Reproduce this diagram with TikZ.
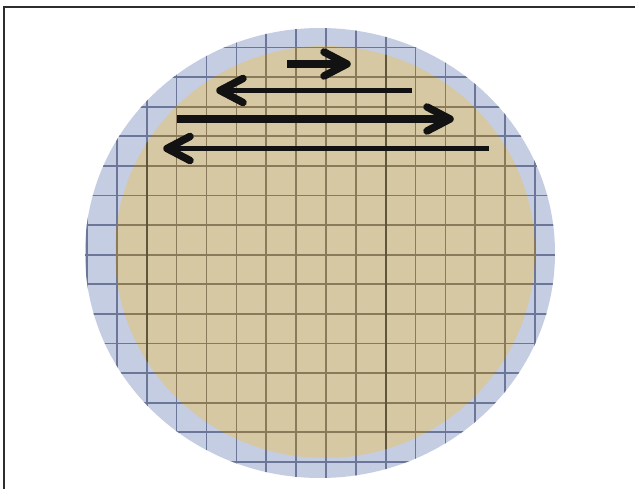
\documentclass[tikz,border=0pt]{standalone}
\usetikzlibrary{calc}
\definecolor{ringblue}{RGB}{197,205,226}
\definecolor{paper}{RGB}{214,200,163}
\definecolor{gridblue}{RGB}{108,118,152}
\definecolor{gridbrown}{RGB}{138,122,90}
\definecolor{griddark}{RGB}{95,84,60}
\definecolor{framegray}{RGB}{45,45,45}
\definecolor{ink}{RGB}{18,18,18}
\tikzset{
  framestyle/.style={draw=framegray,line width=2pt},
  gridline/.style={line width=1.7pt},
  shaftthick/.style={draw=ink,line width=7.5pt,line cap=butt},
  shaftthin/.style={draw=ink,line width=5pt,line cap=butt},
  chevron/.style={draw=ink,line width=7.5pt,line cap=round,line join=round}
}
\begin{document}
\begin{tikzpicture}[x=1pt,y=-1pt]
\useasboundingbox (0,0) rectangle (635,489);
% frame (top and left edges only)
\draw[framestyle] (4,489) -- (4,7) -- (635,7);
% outer disc and filter
\fill[ringblue] (320,253) ellipse [x radius=235, y radius=225];
\fill[paper] (325,252) ellipse [x radius=210, y radius=206];
% grid in blue ring
\begin{scope}
  \clip (320,253) ellipse [x radius=235, y radius=225];
  \foreach \k in {0,...,15} {
    \draw[gridline,gridblue] ({87+29.87*\k},0) -- ({87+29.87*\k},489);
  }
  \foreach \k in {0,...,14} {
    \draw[gridline,gridblue] (0,{47.5+29.6*\k}) -- (635,{47.5+29.6*\k});
  }
\end{scope}
% grid in filter
\begin{scope}
  \clip (325,252) ellipse [x radius=210, y radius=206];
  \foreach \k in {0,...,15} {
    \draw[gridline,gridbrown] ({87+29.87*\k},0) -- ({87+29.87*\k},489);
  }
  \foreach \k in {0,...,14} {
    \draw[gridline,gridbrown] (0,{47.5+29.6*\k}) -- (635,{47.5+29.6*\k});
  }
  \draw[line width=1.8pt,griddark] (146.7,0) -- (146.7,489);
  \draw[line width=1.8pt,griddark] (385.7,0) -- (385.7,489);
\end{scope}
% arrows
\coordinate (a1s) at (287,64);
\coordinate (a1e) at (347,64);
\coordinate (a2s) at (412,90.5);
\coordinate (a2e) at (220,90.5);
\coordinate (a3s) at (177,119);
\coordinate (a3e) at (450,119);
\coordinate (a4s) at (489,148.5);
\coordinate (a4e) at (167,148.5);
\draw[shaftthick] (a1s) -- (a1e);
\draw[chevron] ($(a1e)+(-23,-12)$) -- (a1e) -- ($(a1e)+(-23,12)$);
\draw[shaftthin] (a2s) -- (a2e);
\draw[chevron] ($(a2e)+(23,-12)$) -- (a2e) -- ($(a2e)+(23,12)$);
\draw[shaftthick] (a3s) -- (a3e);
\draw[chevron] ($(a3e)+(-23,-12)$) -- (a3e) -- ($(a3e)+(-23,12)$);
\draw[shaftthin] (a4s) -- (a4e);
\draw[chevron] ($(a4e)+(23,-12)$) -- (a4e) -- ($(a4e)+(23,12)$);
\end{tikzpicture}
\end{document}
